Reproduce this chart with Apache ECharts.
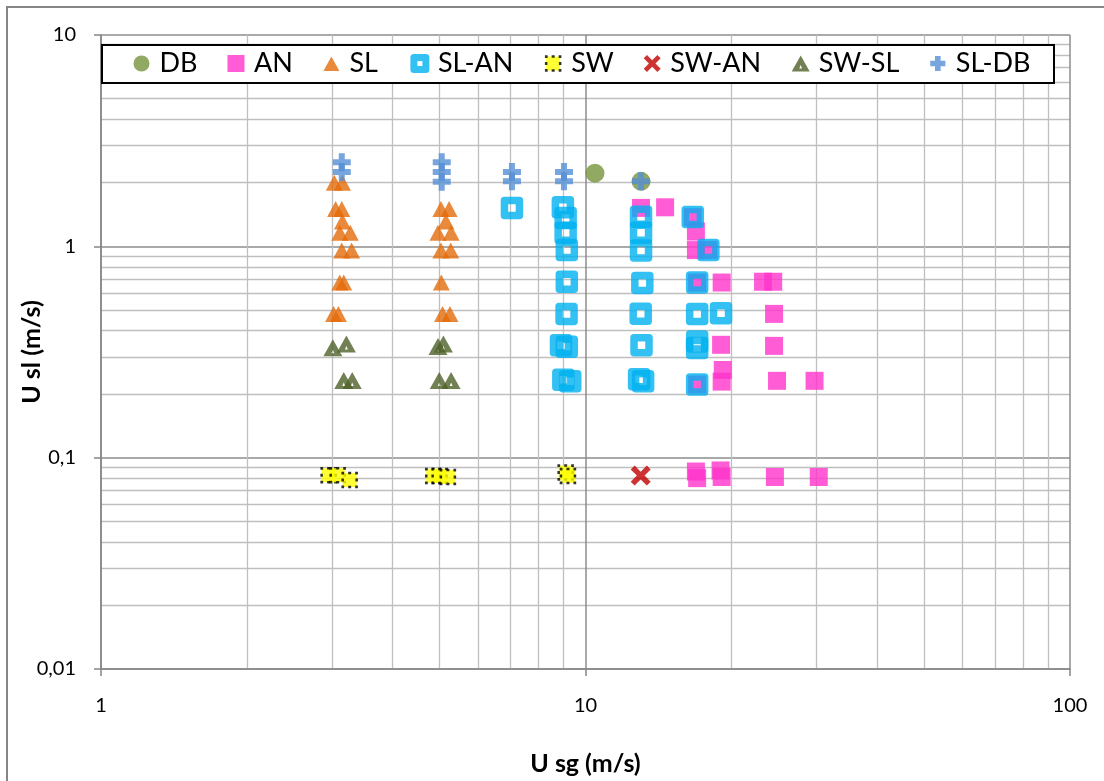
<!DOCTYPE html>
<html>
<head>
<meta charset="utf-8">
<script src="https://cdn.jsdelivr.net/npm/echarts@6/dist/echarts.min.js"></script>
<style>
  html, body { margin: 0; padding: 0; background: #fff; }
  #chart { width: 1104px; height: 781px; }
</style>
</head>
<body>
<div id="chart"></div>
<script>
// Flow pattern map: superficial gas velocity vs superficial liquid velocity
const seriesNames = ['DB', 'AN', 'SL', 'SL-AN', 'SW', 'SW-AN', 'SW-SL', 'SL-DB'];

// [U sg, U sl] pairs, m/s
const dbPoints = [[10.46, 2.22], [13.02, 2.03]];

const anPoints = [
  [13.02, 1.52], [14.6, 1.53], [16.65, 1.375], [16.9, 1.175], [16.9, 0.96], [17.93, 0.96],
  [17.0, 0.674], [19.1, 0.674], [23.25, 0.68], [24.4, 0.68], [24.5, 0.479],
  [19.05, 0.342], [24.5, 0.338], [19.2, 0.26], [19.1, 0.229], [17.0, 0.222],
  [24.85, 0.231], [29.7, 0.231],
  [16.9, 0.086], [17.0, 0.080], [19.0, 0.087], [19.1, 0.081], [24.6, 0.081], [30.3, 0.081]
];

const slPoints = [
  [3.03, 2.0], [3.15, 2.0], [3.05, 1.5], [3.14, 1.5], [3.15, 1.31], [3.11, 1.16], [3.27, 1.16],
  [3.14, 0.955], [3.29, 0.955], [3.11, 0.674], [3.17, 0.674], [3.02, 0.479], [3.09, 0.479],
  [5.03, 1.5], [5.23, 1.5], [5.15, 1.31], [4.96, 1.16], [5.28, 1.16], [5.03, 0.955], [5.27, 0.955],
  [5.04, 0.674], [5.07, 0.479], [5.25, 0.479]
];

const slAnPoints = [
  [7.05, 1.52],
  [8.98, 1.53], [9.1, 1.36], [9.1, 1.16], [9.15, 0.96], [9.15, 0.68], [9.14, 0.479],
  [8.9, 0.34], [9.15, 0.335], [9.0, 0.234], [9.3, 0.23],
  [13.02, 1.38], [13.02, 1.16], [13.02, 0.955], [13.1, 0.67], [13.0, 0.48], [13.05, 0.34],
  [12.9, 0.235], [13.15, 0.23],
  [16.65, 1.375], [17.93, 0.96], [17.0, 0.674], [17.0, 0.479], [19.04, 0.483],
  [17.0, 0.355], [17.0, 0.33], [17.0, 0.222]
];

const swPoints = [
  [2.95, 0.0826], [3.08, 0.0826], [3.26, 0.0784],
  [4.85, 0.082], [5.0, 0.082], [5.2, 0.081],
  [9.1, 0.085], [9.2, 0.082]
];

const swAnPoints = [[13.0, 0.0823]];

const swSlPoints = [
  [3.01, 0.331], [3.21, 0.345], [3.17, 0.232], [3.3, 0.232],
  [4.96, 0.336], [5.09, 0.345], [4.99, 0.232], [5.28, 0.232]
];

const slDbPoints = [
  [3.14, 2.5], [3.14, 2.25],
  [5.05, 2.5], [5.05, 2.25], [5.05, 2.02],
  [7.05, 2.25], [7.05, 2.03],
  [9.03, 2.25], [9.03, 2.03],
  [13.02, 2.03]
];

// Axis ticks
const xTickValues = [1, 10, 100];
const xTickLabels = ['1', '10', '100'];
const yTickValues = [0.01, 0.1, 1, 10];
const yTickLabels = ['0,01', '0,1', '1', '10'];

function tickLabel(values, labels) {
  return function (v) {
    let best = 0, bestD = Infinity;
    values.forEach(function (t, i) {
      const d = Math.abs(Math.log10(v) - Math.log10(t));
      if (d < bestD) { bestD = d; best = i; }
    });
    return bestD < 0.01 ? labels[best] : '';
  };
}

const FONT = 'Lato';

// Marker shapes
const plusPath = 'path://M6,0H12V6H18V12H12V18H6V12H0V6H6Z';
const crossPath = 'path://M0,3.5L3.5,0L9,5.5L14.5,0L18,3.5L12.5,9L18,14.5L14.5,18L9,12.5L3.5,18L0,14.5L5.5,9Z';
const notchedTriangle = 'path://M9,0L18,17H0ZM9,10.5L7.6,14H10.4Z';

// Legend icons (outer move-to points keep every icon in a common 17x17 frame)
const legendIcons = {
  'DB':    'path://M0,0M17,17M8.5,0.5A8,8,0,1,1,8.49,0.5Z',
  'AN':    'path://M0,0M17,17M0,0H17V17H0Z',
  'SL':    'path://M0,0M17,17M8.5,1.5L16.5,16H0.5Z',
  'SL-AN': 'path://M0,0M17,17M2.5,2.5H14.5V14.5H2.5Z',
  'SW':    'path://M0,0M17,17M1.5,1.5H15.5V15.5H1.5Z',
  'SW-AN': crossPath,
  'SW-SL': 'path://M0,0M19,17M9.5,0.5L18.5,16.5H0.5ZM9.5,10L8.1,13.5H10.9Z',
  'SL-DB': 'path://M0,0M18,18M6,1H12V6H17V12H12V17H6V12H1V6H6Z'
};

const styles = {
  'DB':    { symbol: 'circle', symbolSize: 19, itemStyle: { color: '#77933C' } },
  'AN':    { symbol: 'rect', symbolSize: 18, itemStyle: { color: '#FF33CC' } },
  'SL':    { symbol: 'triangle', symbolSize: [17, 16], itemStyle: { color: '#E46C0A' } },
  'SL-AN': { symbol: 'rect', symbolSize: 15, itemStyle: { color: 'rgba(255,255,255,0)', borderColor: '#00B0F0', borderWidth: 7.5, borderJoin: 'round' } },
  'SW':    { symbol: 'rect', symbolSize: 14, itemStyle: { color: '#FFFF00', borderColor: '#000', borderWidth: 2.5, borderType: [3, 4], borderDashOffset: 1.5 } },
  'SW-AN': { symbol: crossPath, symbolSize: 20, itemStyle: { color: '#C00000' } },
  'SW-SL': { symbol: notchedTriangle, symbolSize: [19, 17], itemStyle: { color: '#4F6228' } },
  'SL-DB': { symbol: plusPath, symbolSize: 18, itemStyle: { color: '#558ED5' } }
};

const legendItemStyles = {
  'SL-AN': { color: 'rgba(255,255,255,0)', borderColor: '#00B0F0', borderWidth: 7, borderJoin: 'round' },
  'SW':    { color: '#FFFF00', borderColor: '#000', borderWidth: 2.5, borderType: [3, 4], borderDashOffset: 1.5 }
};

const dataByName = {
  'DB': dbPoints, 'AN': anPoints, 'SL': slPoints, 'SL-AN': slAnPoints,
  'SW': swPoints, 'SW-AN': swAnPoints, 'SW-SL': swSlPoints, 'SL-DB': slDbPoints
};

const series = seriesNames.map(function (name) {
  return Object.assign({
    name: name,
    type: 'scatter',
    data: dataByName[name],
    emphasis: { disabled: true },
    animation: false
  }, styles[name]);
});

const legendData = seriesNames.map(function (name) {
  const item = { name: name, icon: legendIcons[name] };
  if (legendItemStyles[name]) item.itemStyle = legendItemStyles[name];
  return item;
});

const chart = echarts.init(document.getElementById('chart'), null, { renderer: 'canvas' });

chart.setOption({
  backgroundColor: '#fff',
  animation: false,
  textStyle: { fontFamily: FONT },
  grid: { left: 101, right: 34, top: 35, bottom: 112, outerBoundsMode: 'none', containLabel: false },
  graphic: [
    {
      type: 'rect', z: 0, silent: true,
      shape: { x: 7, y: 7, width: 1120, height: 800 },
      style: { fill: 'none', stroke: '#868686', lineWidth: 2 }
    },
    {
      type: 'rect', z: 3, silent: true,
      shape: { x: 102, y: 45, width: 952, height: 38 },
      style: { fill: '#fff', stroke: '#000', lineWidth: 2 }
    }
  ],
  legend: {
    z: 10,
    left: 133,
    top: 50,
    padding: 0,
    itemWidth: 26,
    itemHeight: 17,
    itemGap: 30,
    selectedMode: false,
    textStyle: { fontFamily: FONT, fontSize: 27, color: '#000' },
    data: legendData
  },
  xAxis: {
    type: 'log',
    logBase: 10,
    min: 1,
    max: 100,
    name: 'U sg (m/s)',
    nameLocation: 'middle',
    nameGap: 82,
    nameMoveOverlap: false,
    nameTextStyle: { fontFamily: FONT, fontSize: 25, fontWeight: 'bold', color: '#000' },
    axisLine: { show: true, lineStyle: { color: '#868686', width: 1.5 } },
    axisTick: { show: true, inside: false, length: 7, lineStyle: { color: '#868686', width: 1.5 } },
    axisLabel: { fontFamily: FONT, fontSize: 20, color: '#000', margin: 27, formatter: tickLabel(xTickValues, xTickLabels) },
    splitLine: { show: true, lineStyle: { color: '#8C8C8C', width: 1.5 } },
    minorTick: { show: false, splitNumber: 9 },
    minorSplitLine: { show: true, lineStyle: { color: '#BFBFBF', width: 1.3 } }
  },
  yAxis: {
    type: 'log',
    logBase: 10,
    min: 0.01,
    max: 10,
    name: 'U sl (m/s)',
    nameLocation: 'middle',
    nameGap: 57,
    nameMoveOverlap: false,
    nameTextStyle: { fontFamily: FONT, fontSize: 25, fontWeight: 'bold', color: '#000' },
    axisLine: { show: true, lineStyle: { color: '#868686', width: 1.5 } },
    axisTick: { show: true, inside: false, length: 7, lineStyle: { color: '#868686', width: 1.5 } },
    axisLabel: { fontFamily: FONT, fontSize: 20, color: '#000', margin: 25, formatter: tickLabel(yTickValues, yTickLabels) },
    splitLine: { show: true, lineStyle: { color: '#8C8C8C', width: 1.5 } },
    minorTick: { show: false, splitNumber: 9 },
    minorSplitLine: { show: true, lineStyle: { color: '#BFBFBF', width: 1.3 } }
  },
  series: series
});
</script>
</body>
</html>
